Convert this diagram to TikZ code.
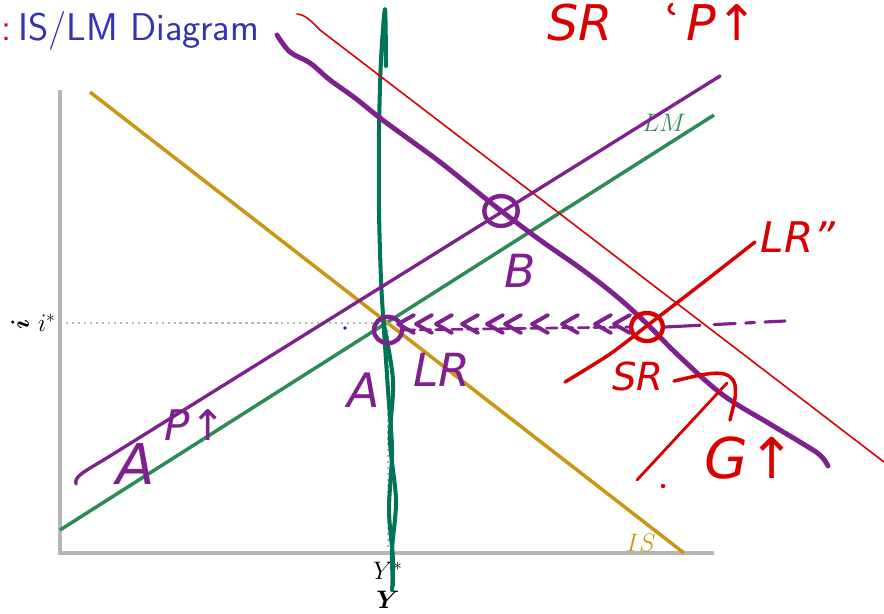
\documentclass[tikz,border=0pt]{standalone}
\usepackage{amsmath, amssymb}
\usepackage{fontspec}
\usepackage{xcolor}
\usepackage{tikz}
\usetikzlibrary{calc, shapes.geometric, arrows.meta}
\newfontfamily\handfont{DejaVu Sans}
\definecolor{SlideBlue}{RGB}{51, 51, 179}
\definecolor{PenRed}{RGB}{216, 0, 0}
\definecolor{PenPurple}{RGB}{126, 32, 142}
\definecolor{PenTeal}{RGB}{0, 116, 86}
\definecolor{CurveGreen}{RGB}{46, 139, 87}
\definecolor{CurveGold}{RGB}{204, 150, 20}
\definecolor{AxisGray}{RGB}{182, 182, 182}

\begin{document}
\begin{tikzpicture}[
          x=0.02cm, y=-0.02cm,
          axis/.style={draw=AxisGray, line width=1.8pt},
          curve/.style={line width=2pt},
          guide/.style={draw=AxisGray, line width=1.4pt, dotted},
          lbl/.style={font=\fontsize{14}{16}\selectfont, inner sep=1pt},
          pen/.style={line width=#1, line cap=round, line join=round},
          ring/.style={ellipse, draw=#1, line width=2.5pt, inner sep=0pt},
          hand/.style={font=\handfont\itshape\fontsize{#1}{#1}\selectfont, inner sep=0pt}
        ]
          \useasboundingbox (0,0) rectangle (884,613);
          \clip (0,0) rectangle (884,613);

          % title
          \node[anchor=base west, text=PenRed, font=\sffamily\fontsize{22}{26}\selectfont, inner sep=0pt] (colon) at (1,40) {:};
          \node[anchor=base west, text=SlideBlue, font=\sffamily\fontsize{22}{26}\selectfont, inner sep=0pt] (title) at (18,40) {IS/LM Diagram};

          % axes
          \coordinate (O) at (60,553);
          \coordinate (ytop) at (60,90);
          \coordinate (xend) at (714,553);
          \draw[axis] (ytop) -- (O) -- (xend);

          % LM and IS
          \coordinate (lm0) at (60,530);
          \coordinate (lm1) at (714,115);
          \coordinate (is0) at (90,92);
          \coordinate (is1) at (684,553);
          \draw[curve, CurveGreen] (lm0) -- (lm1);
          \draw[curve, CurveGold] (is0) -- (is1);
          \node[lbl, text=CurveGreen] (lmlabel) at (664,123) {$LM$};
          \node[lbl, text=CurveGold] (islabel) at (641,543) {$IS$};

          % equilibrium guides
          \coordinate (E) at (388,323);
          \coordinate (iaxis) at (60,323);
          \coordinate (yaxis) at (388,553);
          \draw[guide] (iaxis) -- (E) -- (yaxis);
          \node[lbl, anchor=east] (istar) at (58,323) {$i^*$};
          \node[lbl] (ystar) at (388,571) {$Y^*$};
          \node[lbl] (ylabel) at (388,600) {$\boldsymbol{Y}$};
          \node[lbl, rotate=90] (ilabel) at (20,324) {$\boldsymbol{i}$};

          % pen: long run line
          \draw[pen=2.3pt, PenTeal] plot[smooth] coordinates {(386,66) (385,9) (381,60) (379,130) (379,210) (381,280) (384,330) (388,390) (392,450) (389,510) (393,560) (392,590)};
          \draw[pen=2.3pt, PenTeal] plot[smooth] coordinates {(383,320) (393,380) (390,440) (396,500) (392,550) (393,585)};

          % pen: shifted curves
          \draw[pen=0.9pt, PenRed] (297,14) .. controls (306,15) and (311,21) .. (320,30) -- (884,462);
          \draw[pen=2.8pt, PenPurple] plot[smooth, tension=0.6] coordinates {(277,35) (290,52) (310,63) (330,80) (355,98) (380,118) (410,140) (440,162) (470,186) (500,210) (540,240) (580,268) (615,295) (645,322) (680,357) (723,395) (770,424) (800,442) (820,455) (828,466)};
          \draw[pen=1.9pt, PenPurple] (76,484) .. controls (74,476) and (84,472) .. (110,456) -- (720,76);
          \draw[pen=2pt, PenRed] plot[smooth] coordinates {(565,382) (610,354) (648,325) (700,285) (755,242)};

          % pen: points
          \node[ring=PenPurple, minimum width=19pt, minimum height=17pt] (ptB) at (501,211) {};
          \node[ring=PenPurple, minimum width=16pt, minimum height=15pt] (ptA) at (388,330) {};
          \node[ring=PenRed, minimum width=18pt, minimum height=16pt] (ptSR) at (647,327) {};

          % pen: adjustment path
          \draw[pen=1.5pt, PenPurple, dash pattern=on 6pt off 3pt] (ptA.east) -- (ptSR.west);
          \foreach \cx in {398,416,436,462,487,505,532,562,595,614}
            \draw[pen=2.2pt, PenPurple] (\cx+16,315) -- (\cx,324) -- (\cx+16,333);
          \draw[pen=1.8pt, PenPurple, dash pattern=on 20pt off 8pt on 12pt off 6pt on 5pt off 6pt] (ptSR.east) -- (785,321);

          % pen: arrow
          \draw[pen=1.6pt, PenRed] (637,480) -- (727,383);
          \draw[pen=2pt, PenRed] (674,381) .. controls (705,374) and (730,366) .. (735,385) .. controls (737,398) and (732,410) .. (730,420);
          \draw[pen=1.6pt, PenRed] (672,4) .. controls (667,8) and (668,12) .. (674,14);
          \fill[PenRed] (663,486) circle [radius=2.2];
          \fill[SlideBlue!70!black] (345,328) circle [radius=1.8];

          % pen: notes
          \node[hand=28, text=PenRed, anchor=base] (srtop) at (580,40) {SR};
          \node[hand=28, text=PenRed, anchor=base] (ptop) at (722,40) {P↑};
          \node[hand=24, text=PenRed] (lrtop) at (798,237) {LR”};
          \node[hand=26, text=PenPurple] (labB) at (520,271) {B};
          \node[hand=27, text=PenPurple] (labA) at (364,390) {A};
          \node[hand=26, text=PenPurple] (lrA) at (442,370) {LR};
          \node[hand=22, text=PenRed] (srlow) at (638,376) {SR};
          \node[hand=32, text=PenRed] (gup) at (750,458) {G↑};
          \node[hand=32, text=PenPurple] (apA) at (136,464) {A};
          \node[hand=24, text=PenPurple] (apP) at (195,425) {P↑};
        \end{tikzpicture}
\end{document}
